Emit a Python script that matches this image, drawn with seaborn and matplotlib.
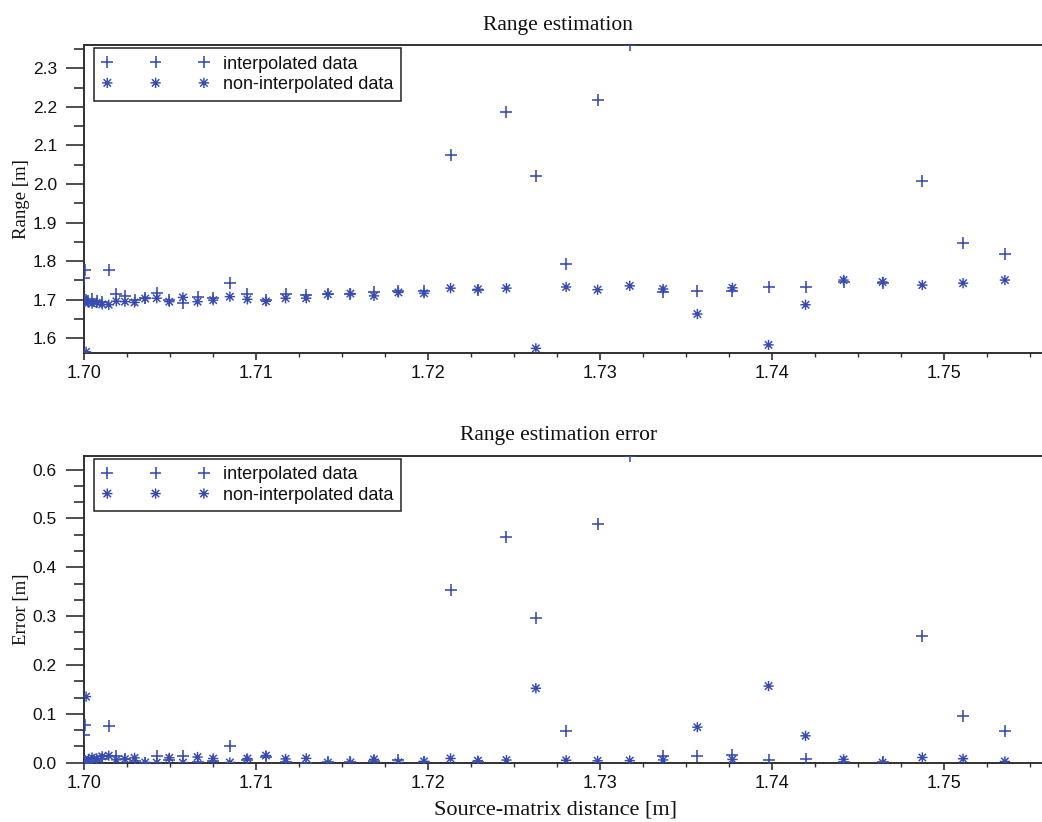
import matplotlib
matplotlib.use("Agg")
import matplotlib.pyplot as plt
from matplotlib.path import Path
from matplotlib.ticker import MultipleLocator, FormatStrFormatter
import seaborn as sns

# Source-matrix distance [m] for each measurement position
source_distance = [1.70000, 1.70003, 1.70012, 1.70026, 1.70047, 1.70074, 1.70106, 1.70144,
                   1.70188, 1.70238, 1.70294, 1.70356, 1.70423, 1.70496, 1.70575, 1.70660,
                   1.70751, 1.70848, 1.70950, 1.71058, 1.71172, 1.71292, 1.71418, 1.71549,
                   1.71686, 1.71828, 1.71977, 1.72131, 1.72290, 1.72456, 1.72627, 1.72803,
                   1.72986, 1.73173, 1.73367, 1.73566, 1.73770, 1.73980, 1.74195, 1.74416,
                   1.74643, 1.74874, 1.75111, 1.75354]

# Estimated range [m]
range_interp = [1.757, 1.777, 1.700, 1.698, 1.702, 1.697, 1.694, 1.777, 1.716, 1.709, 1.700,
                1.704, 1.717, 1.700, 1.692, 1.708, 1.704, 1.743, 1.715, 1.699, 1.714, 1.713,
                1.716, 1.714, 1.720, 1.723, 1.722, 2.074, 1.724, 2.186, 2.022, 1.793, 2.219,
                2.360, 1.719, 1.722, 1.722, 1.734, 1.734, 1.745, 1.744, 2.009, 1.847, 1.819]
range_plain = [1.700, 1.695, 1.565, 1.693, 1.690, 1.692, 1.688, 1.687, 1.696, 1.695, 1.693,
               1.703, 1.704, 1.695, 1.706, 1.695, 1.699, 1.708, 1.701, 1.696, 1.704, 1.704,
               1.714, 1.716, 1.710, 1.719, 1.717, 1.730, 1.727, 1.730, 1.574, 1.733, 1.726,
               1.736, 1.728, 1.663, 1.731, 1.583, 1.687, 1.751, 1.746, 1.738, 1.743, 1.751]

# Absolute range estimation error [m]
error_interp = [0.0570, 0.0770, 0.0001, 0.0023, 0.0015, 0.0037, 0.0071, 0.0756, 0.0141, 0.0066,
                0.0029, 0.0004, 0.0128, 0.0050, 0.0138, 0.0014, 0.0035, 0.0345, 0.0055, 0.0116,
                0.0023, 0.0001, 0.0018, 0.0015, 0.0031, 0.0047, 0.0022, 0.3527, 0.0011, 0.4614,
                0.2957, 0.0650, 0.4891, 0.6283, 0.0147, 0.0137, 0.0157, 0.0058, 0.0080, 0.0008,
                0.0024, 0.2603, 0.0959, 0.0655]
error_plain = [0.0000, 0.0050, 0.1351, 0.0073, 0.0105, 0.0087, 0.0131, 0.0144, 0.0059, 0.0074,
               0.0099, 0.0006, 0.0002, 0.0100, 0.0003, 0.0116, 0.0085, 0.0005, 0.0085, 0.0146,
               0.0077, 0.0089, 0.0002, 0.0005, 0.0069, 0.0007, 0.0028, 0.0087, 0.0041, 0.0054,
               0.1523, 0.0050, 0.0039, 0.0043, 0.0057, 0.0727, 0.0067, 0.1568, 0.0550, 0.0068,
               0.0004, 0.0107, 0.0081, 0.0025]

labels = ["interpolated data", "non-interpolated data"]

sns.set_theme(style="ticks")
plt.rcParams["font.family"] = ["Liberation Sans", "DejaVu Sans"]

BLUE = "#374bb0"
SPINE = "#303030"
SERIF = ["Liberation Serif", "DejaVu Serif"]

# asterisk marker: plus combined with a cross
d = 0.72
asterisk = Path([(0, -1), (0, 1), (-1, 0), (1, 0), (-d, -d), (d, d), (-d, d), (d, -d)],
                [Path.MOVETO, Path.LINETO] * 4)

fig = plt.figure(figsize=(10.42, 8.22), dpi=100)
W, H = 1042.0, 822.0
left_px, right_px = 84.0, 1052.0
ax_top = fig.add_axes([left_px / W, 1 - 352.7 / H, (right_px - left_px) / W, (352.7 - 45.0) / H])
ax_bot = fig.add_axes([left_px / W, 1 - 762.7 / H, (right_px - left_px) / W, (762.7 - 455.7) / H])

panels = [
    (ax_top, range_interp, range_plain, (1.5627, 2.3604), 0.1, 0.05, "Range [m]", "Range estimation"),
    (ax_bot, error_interp, error_plain, (0.0, 0.6283), 0.1, 0.1 / 3, "Error [m]", "Range estimation error"),
]

for ax, y_int, y_pl, ylim, ymaj, ymin, ylab, title in panels:
    sns.scatterplot(x=source_distance, y=y_int, marker="+", s=70, color=BLUE,
                    linewidth=1.15, ax=ax, label=labels[0], zorder=3)
    sns.scatterplot(x=source_distance, y=y_pl, marker=asterisk, s=55, facecolor="none",
                    edgecolor=BLUE, linewidth=1.05, ax=ax, label=labels[1], zorder=3)

    ax.set_xlim(1.70, 1.70 + (right_px - left_px) / 17200.0)
    ax.set_ylim(*ylim)
    ax.xaxis.set_major_locator(MultipleLocator(0.01))
    ax.xaxis.set_minor_locator(MultipleLocator(0.0025))
    ax.xaxis.set_major_formatter(FormatStrFormatter("%.2f"))
    ax.yaxis.set_major_locator(MultipleLocator(ymaj))
    ax.yaxis.set_minor_locator(MultipleLocator(ymin))
    ax.yaxis.set_major_formatter(FormatStrFormatter("%.1f"))

    ax.tick_params(axis="y", which="major", direction="out", length=13, width=1.2,
                   color=SPINE, labelsize=12.5, pad=6.5, labelcolor="#111111")
    ax.tick_params(axis="y", which="minor", direction="out", length=7, width=1.2, color=SPINE)
    ax.tick_params(axis="x", which="major", direction="out", length=5, width=1.2,
                   color=SPINE, labelsize=13, pad=4, labelcolor="#111111")
    ax.tick_params(axis="x", which="minor", direction="out", length=3, width=1.0, color=SPINE)

    for side in ["left", "bottom", "top"]:
        ax.spines[side].set_color(SPINE)
        ax.spines[side].set_linewidth(1.4)
    ax.spines["right"].set_visible(False)

    ax.set_ylabel(ylab, fontfamily=SERIF, fontsize=13.5, color="#111111")
    ax.yaxis.set_label_coords(-0.056, 0.5)
    ax.set_title(title, fontfamily=SERIF, fontsize=15.5, color="#111111", x=0.49, pad=11)

    leg = ax.legend(loc="upper left", bbox_to_anchor=(10.3 / 968.0, 1 - 3.0 / 307.0),
                    borderaxespad=0, scatterpoints=3, scatteryoffsets=[0.5],
                    handlelength=5.95, handletextpad=0.75, borderpad=0.42, labelspacing=0.2,
                    fontsize=13, frameon=True, fancybox=False, framealpha=1)
    leg.get_frame().set_edgecolor("#222222")
    leg.get_frame().set_linewidth(1.1)
    for t in leg.get_texts():
        t.set_color("#111111")

ax_bot.set_xlabel("Source-matrix distance [m]", fontfamily=SERIF, fontsize=16, color="#111111")
ax_bot.xaxis.set_label_coords(0.487, -0.122)

fig.savefig("out.png", dpi=100, facecolor="white")
